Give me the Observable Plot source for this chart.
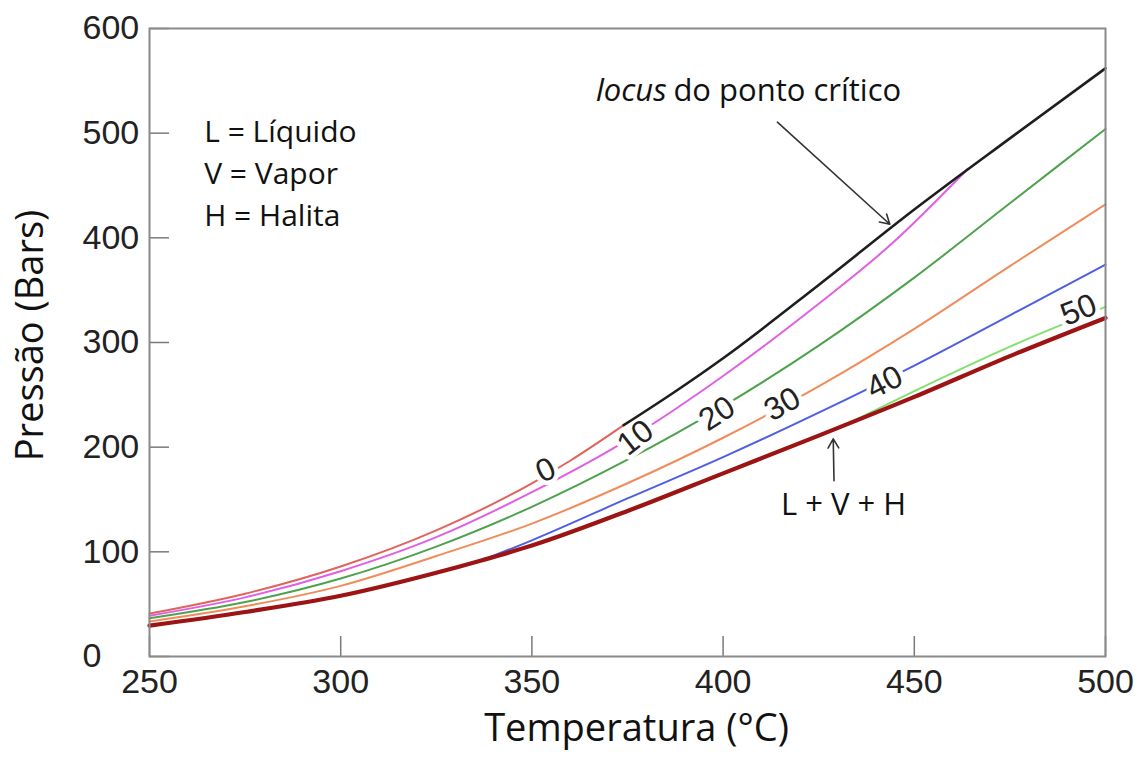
<!DOCTYPE html>
<html><head><meta charset="utf-8">
<script src="https://cdn.jsdelivr.net/npm/d3@7"></script>
<script src="https://cdn.jsdelivr.net/npm/@observablehq/plot@0.6"></script>
<style>html,body{margin:0;padding:0;background:#fff}</style>
</head><body><div id="chart"></div>
<script>
// ---- axis ticks ----
const xTicks = [250, 300, 350, 400, 450, 500];
const yTicks = [0, 100, 200, 300, 400, 500, 600];

// ---- curves (temperature °C, pressure bar) ----
// 0 wt% NaCl (pure water L+V)
const t0  = [250, 275, 300, 325, 350, 360, 374];
const p0  = [41, 60, 86, 120.5, 165.5, 187, 221];
// 10 wt%
const t10 = [250, 275, 300, 325, 350, 375, 400, 425, 444, 464];
const p10 = [39, 56.5, 81.5, 114, 157, 207, 268, 337, 394, 466];
// 20 wt%
const t20 = [250, 275, 300, 325, 350, 375, 400, 425, 450, 475, 500];
const p20 = [36.5, 52, 74.5, 105, 143, 188, 239, 297, 362, 433, 504];
// 30 wt%
const t30 = [250, 275, 300, 325, 350, 375, 400, 425, 450, 475, 500];
const p30 = [33.5, 48, 67.5, 96, 127, 165.5, 209, 258, 313, 373, 432];
// 40 wt%
const t40 = [337, 350, 375, 400, 425, 450, 475, 500];
const p40 = [92, 111, 151, 190.5, 233, 278, 326, 374.5];
// 50 wt%
const t50 = [432, 450, 475, 500];
const p50 = [221.5, 253.5, 296, 334];
// L + V + H (halite saturated)
const tLVH = [250, 275, 300, 325, 337, 350, 375, 400, 425, 450, 475, 500];
const pLVH = [29.5, 42.5, 58, 80, 92, 106, 139, 175, 211, 248, 287, 323.5];
// critical point locus
const tCrit = [374, 387, 400, 425, 450, 475, 500];
const pCrit = [221, 252, 285, 355, 427, 495, 562];

// ---- curve labels ----
const labelText = ["0", "10", "20", "30", "40", "50"];
const labelT    = [353.6, 377.1, 398.4, 415.5, 442.2, 493];
const labelP    = [178, 209, 232, 241, 262, 331];
const labelRot  = [-25, -38, -33, -30, -27, -22];

// ---- annotations ----
const legendLines = ["L = Líquido", "V = Vapor", "H = Halita"];
const legendP = [501, 461, 420.5];
const arrows = [
  {x1: 414.2, y1: 510.5, x2: 443.6, y2: 413},
  {x1: 429, y1: 168, x2: 428.8, y2: 208}
];

const colors = {
  "0": "#e2625c", "10": "#e060e4", "20": "#4ea24e", "30": "#f08c5c",
  "40": "#4f5fe2", "50": "#82e070"
};

const toRows = (name, ts, ps) => ts.map((t, i) => ({series: name, T: t, P: ps[i]}));
const thin = [
  ...toRows("0", t0, p0), ...toRows("10", t10, p10), ...toRows("20", t20, p20),
  ...toRows("30", t30, p30), ...toRows("40", t40, p40), ...toRows("50", t50, p50)
];
const lvh = toRows("LVH", tLVH, pLVH);
const crit = toRows("crit", tCrit, pCrit);
const labels = labelText.map((s, i) => ({s, T: labelT[i], P: labelP[i], r: labelRot[i]}));

const sans = "'Open Sans', sans-serif";
const arial = "'Liberation Sans', Arial, sans-serif";

const chart = Plot.plot({
  width: 1143,
  height: 762,
  marginLeft: 149,
  marginRight: 38,
  marginTop: 28,
  marginBottom: 106,
  style: {background: "#fff", fontFamily: arial},
  x: {domain: [250, 500]},
  y: {domain: [0, 600]},
  marks: [
    Plot.tickX(xTicks, {x: d => d, stroke: "#7a7a7a", strokeWidth: 1.5, insetTop: 608}),
    Plot.tickY(yTicks, {y: d => d, stroke: "#7a7a7a", strokeWidth: 1.5, insetRight: 936}),
    Plot.axisX({ticks: xTicks, tickSize: 0, tickPadding: 12, fontSize: 34, fontFamily: arial, fill: "#222", label: null, tickFormat: d => String(d)}),
    Plot.axisY({ticks: yTicks, tickSize: 0, tickPadding: 67, textAnchor: "start", fontSize: 34, fontFamily: arial, fill: "#222", label: null, tickFormat: d => String(d)}),
    Plot.line(thin, {x: "T", y: "P", z: "series", stroke: d => colors[d.series], strokeWidth: 2, curve: "monotone-x"}),
    Plot.text(labels, {x: "T", y: "P", text: "s", rotate: "r", fontSize: 32, fontFamily: arial, fill: "#222", stroke: "white", strokeWidth: 9, textAnchor: "middle", lineAnchor: "middle"}),
    Plot.line(lvh, {x: "T", y: "P", stroke: "#9c1414", strokeWidth: 4.2, curve: "monotone-x"}),
    Plot.line(crit, {x: "T", y: "P", stroke: "#1e1e1e", strokeWidth: 2.6, curve: "monotone-x"}),
    Plot.arrow(arrows, {x1: "x1", y1: "y1", x2: "x2", y2: "y2", stroke: "#333", strokeWidth: 1.6, headLength: 10}),
    Plot.text(legendLines, {x: 264.3, y: (d, i) => legendP[i], text: d => d, textAnchor: "start", lineAnchor: "middle", fontSize: 30, fontFamily: sans, fill: "#111"}),
    Plot.text(["locus"], {x: 385.2, y: 540.5, text: d => d, textAnchor: "end", lineAnchor: "middle", fontSize: 31, fontStyle: "italic", fontFamily: sans, fill: "#111"}),
    Plot.text(["do ponto crítico"], {x: 387, y: 540.5, text: d => d, textAnchor: "start", lineAnchor: "middle", fontSize: 31, fontFamily: sans, fill: "#111"}),
    Plot.text(["L + V + H"], {x: 431.5, y: 144.5, text: d => d, textAnchor: "middle", lineAnchor: "middle", fontSize: 31, fontFamily: sans, fill: "#111"}),
    Plot.text(["Temperatura (°C)"], {frameAnchor: "bottom", dx: 9, dy: 72, text: d => d, textAnchor: "middle", lineAnchor: "middle", fontSize: 38, fontFamily: sans, fill: "#111"}),
    Plot.text(["Pressão (Bars)"], {frameAnchor: "left", dx: -119, dy: -7, rotate: -90, text: d => d, textAnchor: "middle", lineAnchor: "middle", fontSize: 38, fontFamily: sans, fill: "#111"}),
    Plot.frame({stroke: "#8a8a8a", strokeWidth: 2})
  ]
});
document.getElementById("chart").appendChild(chart);
</script>
</body></html>
